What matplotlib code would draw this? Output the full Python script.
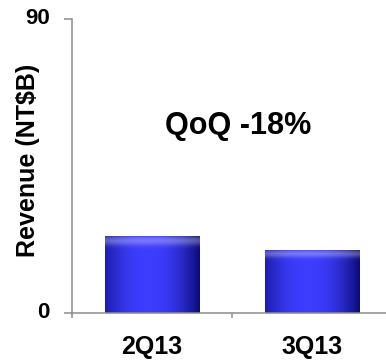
import numpy as np
import matplotlib
matplotlib.use("Agg")
import matplotlib.pyplot as plt

# data
quarters = ["2Q13", "3Q13"]
revenue = [23.7, 19.4]          # NT$B
y_ticks = [0, 90]
note = "QoQ -18%"

plt.rcParams['font.family'] = ['Liberation Sans', 'DejaVu Sans']
plt.rcParams['font.weight'] = 'bold'

fig = plt.figure(figsize=(3.86, 3.6), dpi=100)
ax = fig.add_axes([72 / 386, 47 / 360, 320 / 386, 294 / 360])

x = np.arange(len(quarters))
bars = ax.bar(x, revenue, width=0.59, color="#3535f0", edgecolor="#9a9aa8",
              linewidth=0.6, zorder=2)


def bar_shading(n=200):
    # horizontal: dark navy edges, bright blue middle
    u = np.linspace(0, 1, n)
    h = np.clip(1 - np.abs((u - 0.45) / 0.55) ** 2.2, 0, 1)
    dark = np.array([0.04, 0.04, 0.45])
    bright = np.array([0.24, 0.24, 1.0])
    img = dark + (bright - dark) * h[None, :, None]
    img = np.repeat(img, n, axis=0)
    # vertical: lighter band near the top
    v = np.linspace(0, 1, n)[:, None, None]   # 0 = top
    glow = np.exp(-((v - 0.07) / 0.06) ** 2) * 0.3
    img = img + (1 - img) * glow
    top = np.exp(-(v / 0.012) ** 2) * 0.3
    img = img * (1 - top)
    return np.clip(img, 0, 1)


shade = bar_shading()
for b in bars:
    x0, w, hgt = b.get_x(), b.get_width(), b.get_height()
    im = ax.imshow(shade, extent=[x0, x0 + w, 0, hgt], aspect='auto',
                   zorder=3, interpolation='bilinear')
    im.set_clip_path(b)

ax.set_xlim(-0.5, 1.5)
ax.set_ylim(0, 90)

for side in ("top", "right"):
    ax.spines[side].set_visible(False)
for side in ("left", "bottom"):
    ax.spines[side].set_color("#8c8c8c")
    ax.spines[side].set_linewidth(1.1)
    ax.spines[side].set_zorder(4)

# y ticks: marks from the axis, labels as plain texts
ax.set_yticks(y_ticks)
ax.set_yticklabels([])
ax.tick_params(axis='y', length=6, width=1.1, color="#8c8c8c")
for t in y_ticks:
    ax.text(-0.07, t, str(t), transform=ax.get_yaxis_transform(),
            ha='right', va='center', fontsize=16, fontweight='bold',
            clip_on=False)

ax.set_xticks([-0.5, 0.5, 1.5])
ax.set_xticklabels([])
ax.tick_params(axis='x', which='major', length=3.6, width=1.1, color="#8c8c8c")
ax.set_xticks(x, minor=True)
ax.set_xticklabels(quarters, minor=True)
ax.tick_params(axis='x', which='minor', length=0, pad=16, labelsize=18)
for lab in ax.get_xticklabels(minor=True):
    lab.set_fontweight('bold')

fig.text(28 / 386, 1 - 160 / 360, "Revenue (NT$B)", rotation=90,
         ha='center', va='center', fontsize=18, fontweight='bold')

ax.text(0.54, 57.2, note, ha='center', va='center', fontsize=22,
        fontweight='bold')

ax.set_facecolor("white")
fig.savefig("out.png", dpi=100, facecolor="white")
